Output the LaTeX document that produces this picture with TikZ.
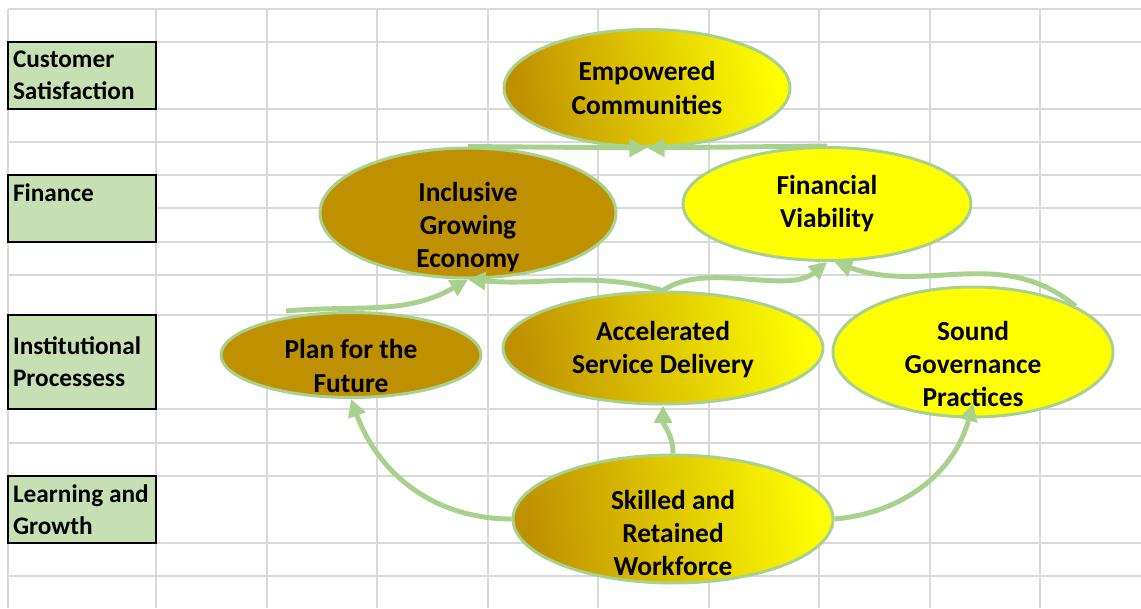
\documentclass[tikz,border=0pt]{standalone}
\usepackage{fontspec}
\setmainfont{Carlito}
\usepackage{xcolor}
\usepackage{tikz}
\usetikzlibrary{shapes.geometric,arrows.meta}
\definecolor{gold}{HTML}{BF9000}
\definecolor{yel}{HTML}{FFFF00}
\definecolor{lgreen}{HTML}{A9D18E}
\definecolor{boxgreen}{HTML}{C6E0B4}
\definecolor{gridgray}{HTML}{D9D9D9}
\tikzset{
  gridln/.style={draw=gridgray, line width=1pt},
  lbl/.style={rectangle, draw=black, line width=1.2pt, fill=boxgreen, minimum width=2.96cm,
              text width=2.76cm, inner sep=0.1cm, align=flush left,
              font=\fontsize{14.4}{18.2}\selectfont\bfseries},
  goal/.style={ellipse, draw=lgreen, line width=1.7pt, inner sep=0pt},
  dgoal/.style={goal, fill=gold},
  ygoal/.style={goal, fill=yel},
  ggoal/.style={goal, left color=gold, right color=yel, shading angle=100},
  gtxt/.style={align=center, inner sep=0pt, yshift=#1,
               font=\fontsize{15.6}{18.8}\selectfont\bfseries},
  gtxt/.default=0pt,
  arr/.style={-{Triangle[length=10pt,width=10pt]}, draw=lgreen, line width=2.8pt}
}
\begin{document}
\begin{tikzpicture}[x=0.02cm, y=0.02cm]
  \fill[white] (0,0) rectangle (1141,608);
  \useasboundingbox (0,0) rectangle (1141,608);
  \foreach \x in {8,156,267,377,488,598,709,819,930,1040}
    \draw[gridln] (\x,0) -- (\x,599);
  \foreach \y in {599,566,499,466,433,400,366,333,293,199,165,132,65,32}
    \draw[gridln] (8,\y) -- (1141,\y);

  \node[lbl, minimum height=1.34cm] (cs) at (82,532.5) {Customer\\Satisfaction};
  \node[lbl, minimum height=1.34cm] (fin) at (82,399.5) {Finance\\~};
  \node[lbl, minimum height=1.88cm] (ip) at (82,246) {Institutional\\Processess};
  \node[lbl, minimum height=1.34cm] (lg) at (82,98.5) {Learning and\\Growth};

  \node[ggoal, minimum width=5.72cm, minimum height=2.34cm,
        label={[gtxt]center:Empowered\\Communities}] (emp) at (647,520) {};
  \node[dgoal, minimum width=5.92cm, minimum height=2.6cm,
        label={[gtxt=-0.28cm]center:Inclusive\\Growing\\Economy}] (incl) at (468,395) {};
  \node[ygoal, minimum width=5.76cm, minimum height=2.26cm,
        label={[gtxt]center:Financial\\Viability}] (finv) at (827,404) {};
  \node[dgoal, minimum width=5.2cm, minimum height=1.7cm,
        label={[gtxt=-0.22cm]center:Plan for the\\Future}] (plan) at (351,253) {};
  \node[ggoal, minimum width=6.4cm, minimum height=2.24cm,
        label={[gtxt=-0.04cm]center:Accelerated\\Service Delivery}] (accel) at (663,260) {};
  \node[ygoal, minimum width=5.6cm, minimum height=2.6cm,
        label={[gtxt=-0.24cm]center:Sound\\Governance\\Practices}] (sound) at (973,256) {};
  \node[ggoal, minimum width=6.4cm, minimum height=2.56cm,
        label={[gtxt=-0.28cm]center:Skilled and\\Retained\\Workforce}] (skill) at (673,89) {};

  \draw[arr] (incl.north) -- (emp.south);
  \draw[arr] (finv.north) -- (emp.south);
  \draw[arr] ([xshift=-1.3cm]plan.north) to[out=5,in=-150] (incl.south);
  \draw[arr] (accel.north) to[out=165,in=-5] (incl.south);
  \draw[arr] (accel.north) to[out=35,in=-140,looseness=0.8] (finv.south);
  \draw[arr] (sound.24) to[out=140,in=-20] ([xshift=0.15cm]finv.south);
  \draw[arr] (skill.north) to[out=90,in=-90] (accel.south);
  \draw[arr] (skill.west) to[out=180,in=-70] (plan.south);
  \draw[arr] (skill.east) to[out=5,in=-105] ([yshift=0.3cm]sound.south);
\end{tikzpicture}
\end{document}
